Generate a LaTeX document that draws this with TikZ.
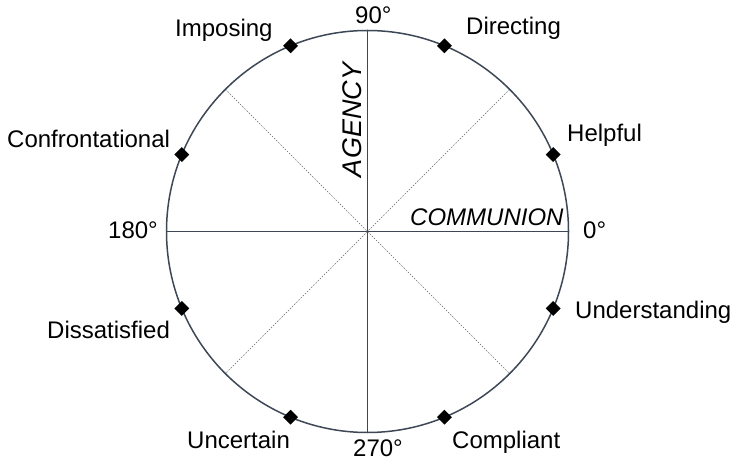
\documentclass[tikz,border=0pt]{standalone}
\usepackage{fontspec}
\setmainfont{Liberation Sans}
\usetikzlibrary{shapes.geometric,calc}
\definecolor{axis}{HTML}{3D4756}
\tikzset{
  lbl/.style={anchor=base west,inner sep=0pt,font=\fontsize{24}{28}\selectfont},
  dia/.style={shape=diamond,fill=black,inner sep=0pt,minimum size=15pt},
  solidax/.style={draw=axis,line width=1.5pt},
  dotax/.style={draw=gray!80!black,line width=0.6pt,dash pattern=on 1.5pt off 1.5pt},
}
\begin{document}
\begin{tikzpicture}[x=1pt,y=1pt]
\useasboundingbox (0,0) rectangle (735,460);
\coordinate (c) at (367.5,228.5);
\def\R{201}
\foreach \a in {0,45,...,315} {\coordinate (e\a) at ($(c)+(\a:\R)$);}
\draw[dotax] (e45) -- (e225);
\draw[dotax] (e135) -- (e315);
\draw[solidax] (e0) -- (e180);
\draw[solidax] (e90) -- (e270);
\draw[solidax] (c) circle[radius=\R];
\foreach \a/\n in {22.5/d1,67.5/d2,112.5/d3,157.5/d4,202.5/d5,247.5/d6,292.5/d7,337.5/d8}
  {\node[dia] (\n) at ($(c)+(\a:\R)$) {};}
\node[lbl] (l90) at (355,436) {90°};
\node[lbl] (l0) at (583,221) {0°};
\node[lbl] (l180) at (108,221) {180°};
\node[lbl] (l270) at (353,4) {270°};
\node[lbl] (directing) at (466,425) {Directing};
\node[lbl] (helpful) at (567,318) {Helpful};
\node[lbl] (understanding) at (575,141) {Understanding};
\node[lbl] (compliant) at (452,12) {Compliant};
\node[lbl] (uncertain) at (187,12) {Uncertain};
\node[lbl] (dissatisfied) at (47,121) {Dissatisfied};
\node[lbl] (confrontational) at (7,312) {Confrontational};
\node[lbl] (imposing) at (175,423) {Imposing};
\node[lbl,font=\fontsize{24}{28}\selectfont\itshape] (communion) at (410,234) {COMMUNION};
\node[inner sep=0pt,rotate=90,font=\fontsize{27}{32}\selectfont\itshape] (agency) at (352,340) {AGENCY};
\end{tikzpicture}
\end{document}
